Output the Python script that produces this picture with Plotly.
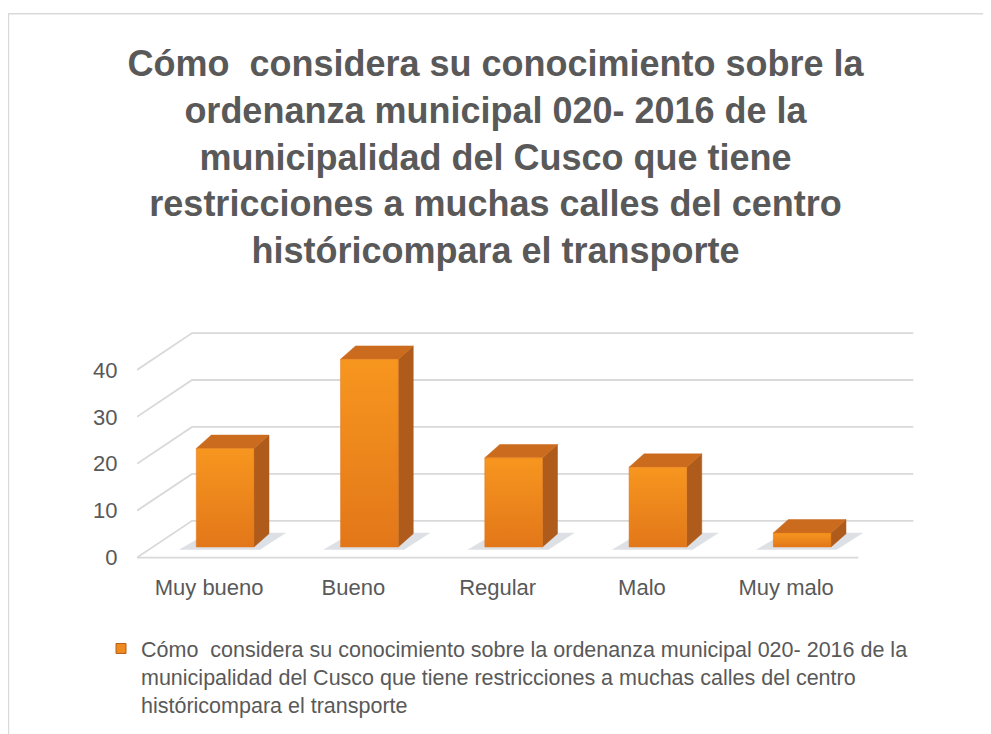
import plotly.graph_objects as go

# ---------------- data ----------------
categories = ["Muy bueno", "Bueno", "Regular", "Malo", "Muy malo"]
values = [21, 40, 19, 17, 3]
y_ticks = [0, 10, 20, 30, 40]
title_lines = [
    "Cómo\u00a0 considera su conocimiento sobre la",
    "ordenanza municipal 020- 2016 de la",
    "municipalidad del Cusco que tiene",
    "restricciones a muchas calles del centro",
    "históricompara el transporte",
]
legend_lines = [
    "Cómo\u00a0 considera su conocimiento sobre la ordenanza municipal 020- 2016 de la",
    "municipalidad del Cusco que tiene restricciones a muchas calles del centro",
    "históricompara el transporte",
]

# ---------------- style / geometry ----------------
W, H = 991, 734
OFF = 8                     # page body margin of the html
PX_CAT, PX_UNIT = 144.2, 4.68
X_RANGE = [-0.5, 4.9]
Y_RANGE = [-2.0, 48.5]
ML = 137 - OFF
PW = (X_RANGE[1] - X_RANGE[0]) * PX_CAT
MR = W - ML - PW
PH = (Y_RANGE[1] - Y_RANGE[0]) * PX_UNIT
MT = (557.3 - OFF) - Y_RANGE[1] * PX_UNIT
MB = H - MT - PH

DX, DY = 55 / PX_CAT, 36.7 / PX_UNIT        # wall depth (oblique)
FX, FY = 16 / PX_CAT, 10.6 / PX_UNIT        # bar front-face offset
BDX, BDY = 15 / PX_CAT, 13.3 / PX_UNIT      # bar depth
HALF = 0.2                                  # half bar width

GRID = "#d9d9d9"
TXT = "#595959"
FRONT_BOT, FRONT_TOP = "#E27719", "#F7961F"
SIDE = "#AE5B1B"
TOP = "#CB6B1D"
FONT = "Liberation Sans, Arial, sans-serif"

fig = go.Figure()

# gridlines (oblique wall)
gx, gy = [], []
n = len(categories)
for v in y_ticks:
    gx += [X_RANGE[0], X_RANGE[0] + DX, n - 0.5 + DX, None]
    gy += [v, v + DY, v + DY, None]
gx += [X_RANGE[0], n - 0.5, None]
gy += [0, 0, None]
fig.add_trace(go.Scatter(x=gx, y=gy, mode="lines", line=dict(color=GRID, width=1.8),
                         hoverinfo="skip", showlegend=False))

legend_name = "<br>".join(legend_lines)

for i, v in enumerate(values):
    xl, xr = i - HALF + FX, i + HALF + FX
    y0, y1 = FY, FY + v
    # floor shadow
    fig.add_trace(go.Scatter(
        x=[xl - 0.12, xr + 0.04, xr + BDX + 0.12, xl + 0.08, xl - 0.12],
        y=[y0 - 0.6, y0 - 0.6, y0 + BDY + 0.2, y0 + BDY + 0.2, y0 - 0.6],
        mode="lines", fill="toself", line=dict(width=0),
        fillcolor="rgba(125,135,152,0.26)", hoverinfo="skip", showlegend=False))
    # side face
    fig.add_trace(go.Scatter(
        x=[xr, xr + BDX, xr + BDX, xr, xr],
        y=[y0, y0 + BDY, y1 + BDY, y1, y0],
        mode="lines", fill="toself", line=dict(width=0.5, color=SIDE),
        fillcolor=SIDE, hoverinfo="skip", showlegend=False))
    # top face
    fig.add_trace(go.Scatter(
        x=[xl, xr, xr + BDX, xl + BDX, xl],
        y=[y1, y1, y1 + BDY, y1 + BDY, y1],
        mode="lines", fill="toself", line=dict(width=0.5, color=TOP),
        fillcolor=TOP, hoverinfo="skip", showlegend=False))
    # front face
    fig.add_trace(go.Scatter(
        x=[xl, xr, xr, xl, xl],
        y=[y0, y0, y1, y1, y0],
        mode="lines", fill="toself", line=dict(width=0.5, color=FRONT_BOT),
        fillgradient=dict(type="vertical",
                          colorscale=[[0, FRONT_BOT], [1, FRONT_TOP]]),
        showlegend=False,
        hovertemplate=f"{categories[i]}: {v}<extra></extra>"))

# legend key (legend-only entry)
fig.add_trace(go.Scatter(
    x=[None], y=[None], mode="markers", name=legend_name,
    marker=dict(symbol="square", size=10, color="#EE8A1E",
                line=dict(color="#B35F1C", width=1)),
    showlegend=True))

# frame
def px_to_paper_x(px):
    return (px - OFF - ML) / PW

def px_to_paper_y(py):
    return (MT + PH - (py - OFF)) / PH

fig.add_shape(type="rect", xref="paper", yref="paper",
              x0=px_to_paper_x(8.5), x1=px_to_paper_x(1010),
              y0=px_to_paper_y(760), y1=px_to_paper_y(15),
              line=dict(color=GRID, width=1.5), fillcolor="rgba(0,0,0,0)", layer="below")

fig.update_layout(
    width=W, height=H,
    margin=dict(l=ML, r=MR, t=MT, b=MB, autoexpand=False),
    paper_bgcolor="white", plot_bgcolor="white",
    title=dict(text="<br>".join(title_lines), x=(495.5 - OFF) / W, xref="container",
               xanchor="center",
               y=1 - 68 / H, yref="container", yanchor="top", automargin=False,
               font=dict(family=FONT, size=36, color=TXT, weight="bold")),
    xaxis=dict(range=X_RANGE, tickvals=list(range(n)), ticktext=categories,
               showgrid=False, zeroline=False, showline=False, ticks="outside",
               ticklen=1, tickcolor="rgba(0,0,0,0)",
               tickfont=dict(family=FONT, size=22, color=TXT),
               fixedrange=True, automargin=False),
    yaxis=dict(range=Y_RANGE, tickvals=y_ticks, showgrid=False, zeroline=False,
               showline=False, ticks="outside", ticklen=14, tickcolor="rgba(0,0,0,0)",
               tickfont=dict(family=FONT, size=22, color=TXT),
               fixedrange=True, automargin=False),
    showlegend=True,
    legend=dict(xref="container", yref="container", x=93 / W,
                y=1 - 620 / H,
                xanchor="left", yanchor="top", valign="top",
                font=dict(family=FONT, size=21.5, color=TXT),
                bgcolor="rgba(0,0,0,0)", itemwidth=30),
)

fig.write_html("out.html")
